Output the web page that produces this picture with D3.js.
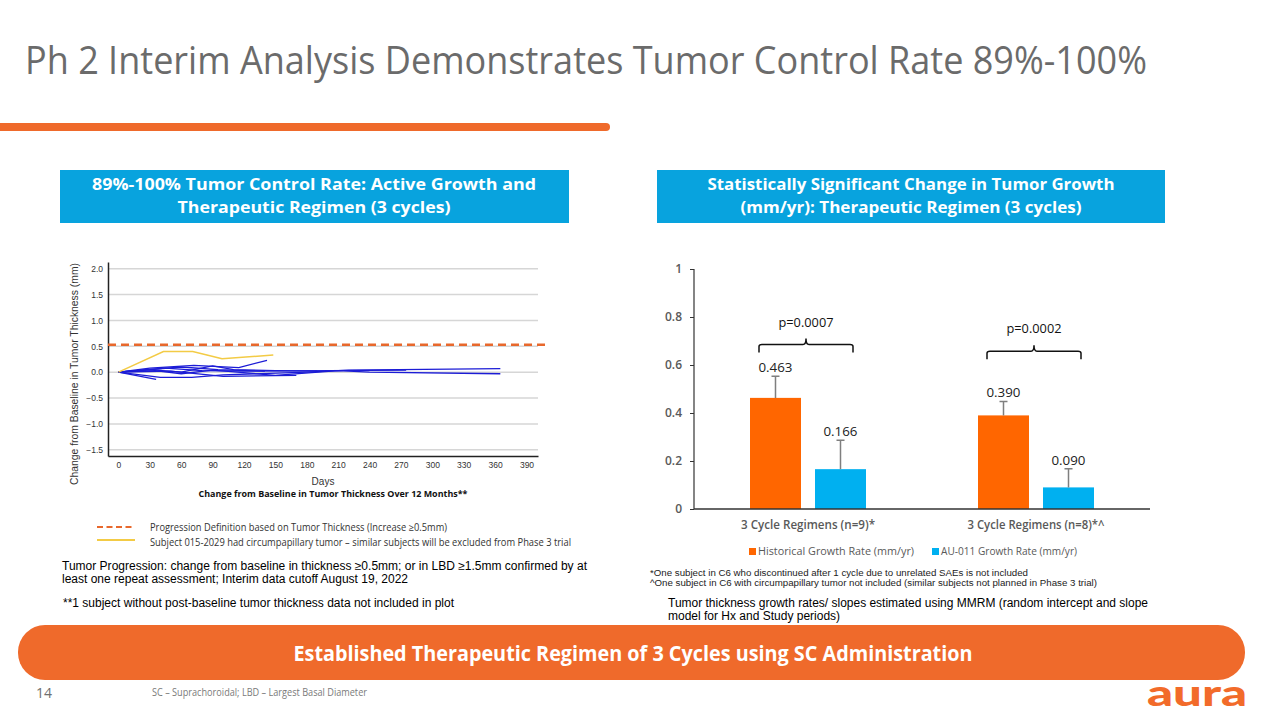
<!DOCTYPE html>
<html><head><meta charset="utf-8">
<script src="https://cdn.jsdelivr.net/npm/d3@7"></script>
<style>html,body{margin:0;padding:0;background:#fff;}svg{display:block;}</style>
</head><body>
<script>
// ---------- DATA ----------
// Left chart: change from baseline in tumor thickness (mm) vs days
const xTicksDays = [0,30,60,90,120,150,180,210,240,270,300,330,360,390];
const yTicksThickness = [-1.5,-1.0,-0.5,0.0,0.5,1.0,1.5,2.0];
const progressionThreshold = 0.53;
const subject015_2029 = [[0,0],[43,0.40],[71,0.40],[99,0.26],[148,0.33]];
const subjectA = [[0,0],[30,0.08],[72,0.13],[115,0.09],[142,0.23]];
const subjectB = [[0,0],[36,-0.14]];
const subjectC = [[0,0],[40,-0.10],[70,-0.10],[100,-0.05],[180,0.0],[220,0.04],[365,0.07]];
const subjectD = [[0,0],[35,0.03],[60,-0.03],[90,0.04],[150,-0.06],[210,0.03],[240,0.0],[365,-0.03]];
const subjectE = [[0,0],[45,0.08],[80,0.03],[120,0.02],[275,0.04]];
const subjectF = [[0,0],[30,0.05],[60,0.0],[90,0.12],[110,0.05],[150,0.03],[190,0.02]];
const subjectG = [[0,0],[50,0.02],[100,-0.08],[170,-0.06]];
const subjectH = [[0,0],[60,0.10],[95,0.05],[140,0.02]];
const blueSubjects = [subjectA,subjectB,subjectC,subjectD,subjectE,subjectF,subjectG,subjectH];

// Right chart: growth rate (mm/yr)
const categories = ["3 Cycle Regimens (n=9)*","3 Cycle Regimens (n=8)*^"];
const seriesNames = ["Historical Growth Rate (mm/yr)","AU-011 Growth Rate (mm/yr)"];
const historicalRate = [0.463, 0.390];
const au011Rate = [0.166, 0.090];
const historicalUpper = [0.553, 0.448];
const au011Upper = [0.286, 0.168];
const valueLabels = [["0.463","0.166"],["0.390","0.090"]];
const pValues = ["p=0.0007","p=0.0002"];
const bracketLevels = [0.685, 0.657];
const yTicksRate = [0,0.2,0.4,0.6,0.8,1];
const yTickLabelsRate = ["0","0.2","0.4","0.6","0.8","1"];

// ---------- DRAW ----------
const CAL = "'Open Sans', 'Noto Sans', sans-serif";
const ARIAL = "'Liberation Sans', Arial, sans-serif";
const ORANGE = "#EF6A2B", BLUEBOX = "#08A3DE";
const svg = d3.select("body").append("svg").attr("width",1280).attr("height",720);

function T(x,y,s,o={}){
  const t = svg.append("text").attr("x",x).attr("y",y).text(s)
    .attr("font-family",o.ff||CAL).attr("font-size",o.fs||12)
    .attr("fill",o.fill||"#000").attr("font-weight",o.fw||400)
    .attr("text-anchor",o.anchor||"start");
  if(o.w){ t.attr("textLength",o.w).attr("lengthAdjust","spacingAndGlyphs"); }
  if(o.rot){ t.attr("transform",`rotate(${o.rot},${x},${y})`); }
  return t;
}

// Title
T(25,74,"Ph 2 Interim Analysis Demonstrates Tumor Control Rate 89%-100%",{fs:38,fill:"#6b6b6b",w:1122});
svg.append("line").attr("x1",-10).attr("x2",606).attr("y1",127).attr("y2",127)
  .attr("stroke",ORANGE).attr("stroke-width",8).attr("stroke-linecap","round");

// Blue header boxes
svg.append("rect").attr("x",60).attr("y",170).attr("width",509).attr("height",53).attr("fill",BLUEBOX);
T(314,190,"89%-100% Tumor Control Rate: Active Growth and",{fs:16.5,fw:700,fill:"#fff",anchor:"middle",w:444});
T(314,213,"Therapeutic Regimen (3 cycles)",{fs:16.5,fw:700,fill:"#fff",anchor:"middle",w:273});
svg.append("rect").attr("x",657).attr("y",170).attr("width",508).attr("height",53).attr("fill",BLUEBOX);
T(911,190,"Statistically Significant Change in Tumor Growth",{fs:16.5,fw:700,fill:"#fff",anchor:"middle",w:407});
T(911,213,"(mm/yr): Therapeutic Regimen (3 cycles)",{fs:16.5,fw:700,fill:"#fff",anchor:"middle",w:341});

// ---------- Left chart ----------
const xL = d3.scaleLinear().domain([-10,401]).range([108,538]);
const yL = d3.scaleLinear().domain([-1.62,2.13]).range([456,262]);
const gL = svg.append("g");
gL.selectAll(".grid").data(yTicksThickness).join("line")
  .attr("x1",xL(-10)).attr("x2",xL(401)).attr("y1",d=>yL(d)).attr("y2",d=>yL(d))
  .attr("stroke","#d6d6d6").attr("stroke-width",1.5);
const axY = gL.append("g").attr("transform",`translate(${xL(-10)},0)`)
  .call(d3.axisLeft(yL).tickValues(yTicksThickness).tickFormat(d3.format(".1f")).tickSize(0).tickPadding(5));
const axX = gL.append("g").attr("transform",`translate(0,${yL(-1.62)})`)
  .call(d3.axisBottom(xL).tickValues(xTicksDays).tickSize(0).tickPadding(6));
[axY,axX].forEach(a=>{
  a.select(".domain").attr("stroke","#222").attr("stroke-width",1.5);
  a.selectAll("text").attr("font-family",ARIAL).attr("font-size",8.5).attr("fill","#333");
});
gL.append("line").attr("x1",xL(-10)).attr("x2",545).attr("y1",yL(progressionThreshold)).attr("y2",yL(progressionThreshold))
  .attr("stroke","#E8682C").attr("stroke-width",2.5).attr("stroke-dasharray","8,5");
const line = d3.line().x(d=>xL(d[0])).y(d=>yL(d[1]));
gL.selectAll(".blue").data(blueSubjects).join("path").attr("d",line)
  .attr("fill","none").attr("stroke","#1c1cd6").attr("stroke-width",1.3).attr("stroke-linejoin","round");
gL.append("path").attr("d",line(subject015_2029)).attr("fill","none").attr("stroke","#F3CB45").attr("stroke-width",1.5);
T(78,374,"Change from Baseline in Tumor Thickness (mm)",{ff:ARIAL,fs:10.5,fill:"#333",anchor:"middle",rot:-90,w:222});
T(323,485,"Days",{ff:ARIAL,fs:10,fill:"#333",anchor:"middle"});
T(333,497,"Change from Baseline in Tumor Thickness Over 12 Months**",{fs:9,fw:700,fill:"#111",anchor:"middle",w:269});

// left legend
svg.append("line").attr("x1",97).attr("x2",135).attr("y1",527).attr("y2",527)
  .attr("stroke","#E8682C").attr("stroke-width",2).attr("stroke-dasharray","6,3.5");
svg.append("line").attr("x1",97).attr("x2",135).attr("y1",540).attr("y2",540)
  .attr("stroke","#F3CB45").attr("stroke-width",2);
T(150,531,"Progression Definition based on Tumor Thickness (Increase ≥0.5mm)",{fs:10,fill:"#333",w:297});
T(150,546,"Subject 015-2029 had circumpapillary tumor – similar subjects will be excluded from Phase 3 trial",{fs:10,fill:"#333",w:421});
T(62,570,"Tumor Progression: change from baseline in thickness ≥0.5mm; or in LBD ≥1.5mm confirmed by at",{ff:ARIAL,fs:12,w:525});
T(62,583,"least one repeat assessment; Interim data cutoff August 19, 2022",{ff:ARIAL,fs:12});
T(63,607,"**1 subject without post-baseline tumor thickness data not included in plot",{ff:ARIAL,fs:12,w:391});

// ---------- Right chart ----------
const x0 = d3.scaleBand().domain(categories).range([694,1150]).padding(0);
const x1 = d3.scaleBand().domain(seriesNames).range([x0.bandwidth()/2-58, x0.bandwidth()/2+58]).paddingInner(0.2154);
const yR = d3.scaleLinear().domain([0,1]).range([509,269]);
const gR = svg.append("g");
const axR = gR.append("g").attr("transform","translate(694,0)")
  .call(d3.axisLeft(yR).tickValues(yTicksRate).tickFormat((d,i)=>yTickLabelsRate[i]).tickSize(4).tickPadding(8));
axR.select(".domain").attr("stroke","#333").attr("stroke-width",1.2).attr("d","M0,269V509");
axR.selectAll("line").attr("stroke","#333");
axR.selectAll("text").attr("font-family",CAL).attr("font-size",12).attr("font-weight",600).attr("fill","#595959");

const barData = categories.flatMap((c,i)=>[
  {c, s:seriesNames[0], v:historicalRate[i], up:historicalUpper[i], lab:valueLabels[i][0], color:"#FF6600"},
  {c, s:seriesNames[1], v:au011Rate[i], up:au011Upper[i], lab:valueLabels[i][1], color:"#00B0F0"}]);
const bx = d=>x0(d.c)+x1(d.s);
gR.selectAll(".bar").data(barData).join("rect")
  .attr("x",bx).attr("width",x1.bandwidth()).attr("y",d=>yR(d.v)).attr("height",d=>yR(0)-yR(d.v)).attr("fill",d=>d.color);
gR.selectAll(".err").data(barData).join("path")
  .attr("d",d=>{const cx=bx(d)+x1.bandwidth()/2; return `M${cx},${yR(d.v)}V${yR(d.up)}M${cx-4},${yR(d.up)}H${cx+4}`;})
  .attr("stroke","#7f7f7f").attr("stroke-width",1.5).attr("fill","none");
barData.forEach(d=>T(bx(d)+x1.bandwidth()/2, yR(d.up)-4, d.lab,{fs:13.5,fill:"#222",anchor:"middle",w:34}));
gR.append("line").attr("x1",694).attr("x2",1150).attr("y1",yR(0)).attr("y2",yR(0)).attr("stroke","#333").attr("stroke-width",1.3);
categories.forEach((c,i)=>{
  const a = x0(c)+x0.bandwidth()/2-49, b = x0(c)+x0.bandwidth()/2+45, m=(a+b)/2, yb=yR(bracketLevels[i]);
  gR.append("path").attr("d",`M${a},${yb+8}V${yb+2}Q${a},${yb} ${a+3},${yb}H${m-3}Q${m},${yb} ${m},${yb-6}Q${m},${yb} ${m+3},${yb}H${b-3}Q${b},${yb} ${b},${yb+2}V${yb+8}`)
    .attr("fill","none").attr("stroke","#111").attr("stroke-width",1.5);
  T(m, yb-18, pValues[i],{fs:13,fill:"#111",anchor:"middle",w:55});
});
categories.forEach(c=>T(x0(c)+x0.bandwidth()/2,529,c,{fs:12,fw:600,fill:"#595959",anchor:"middle",w:c.endsWith("^")?137:134}));
svg.append("rect").attr("x",749).attr("y",548).attr("width",7).attr("height",7).attr("fill","#FF6600");
T(758,555,seriesNames[0],{fs:11,fill:"#595959",w:156});
svg.append("rect").attr("x",932).attr("y",548).attr("width",7).attr("height",7).attr("fill","#00B0F0");
T(941,555,seriesNames[1],{fs:11,fill:"#595959",w:136});
T(650,576,"*One subject in C6 who discontinued after 1 cycle due to unrelated SAEs is not included",{ff:ARIAL,fs:8.5,fill:"#222",w:378});
T(650,586,"^One subject in C6 with circumpapillary tumor not included (similar subjects not planned in Phase 3 trial)",{ff:ARIAL,fs:8.5,fill:"#222",w:447});
T(668,607,"Tumor thickness growth rates/ slopes estimated using MMRM (random intercept and slope",{ff:ARIAL,fs:12,w:480});
T(668,620,"model for Hx and Study periods)",{ff:ARIAL,fs:12});

// ---------- Banner & footer ----------
svg.append("rect").attr("x",18).attr("y",625).attr("width",1227).attr("height",55).attr("rx",27).attr("fill",ORANGE);
T(633,661,"Established Therapeutic Regimen of 3 Cycles using SC Administration",{fs:21.5,fw:700,fill:"#fff",anchor:"middle",w:679});
T(36,698,"14",{fs:14,fill:"#6f6f6f"});
T(152,696,"SC – Suprachoroidal; LBD – Largest Basal Diameter",{fs:10,fill:"#7a7a7a",w:215});
T(1147,706,"aura",{ff:"'Lato', 'Open Sans', sans-serif",fs:36,fw:900,fill:"#F26B2A",w:100});
</script>
</body></html>
